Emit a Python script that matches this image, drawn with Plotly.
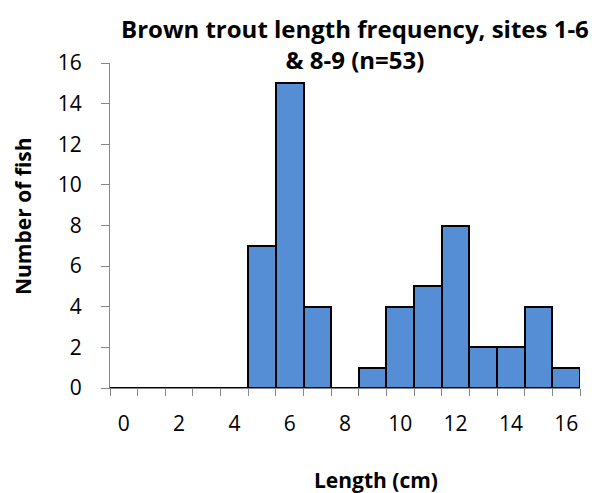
import plotly.graph_objects as go

lengths = list(range(0, 17))
counts = [0, 0, 0, 0, 0, 7, 15, 4, 0, 1, 4, 5, 8, 2, 2, 4, 1]
x_tick_vals = [0, 2, 4, 6, 8, 10, 12, 14, 16]
y_tick_vals = [0, 2, 4, 6, 8, 10, 12, 14, 16]

FONT = "Open Sans"

fig = go.Figure()
fig.add_trace(go.Bar(
    x=lengths, y=counts,
    marker=dict(color="#558ED5", line=dict(color="black", width=2)),
    width=1.0,
))

W, H = 608, 493
L, R, T, B = 110, 28, 63, 105

fig.update_layout(
    width=W, height=H,
    margin=dict(l=L, r=R, t=T, b=B, autoexpand=False),
    paper_bgcolor="white", plot_bgcolor="white",
    showlegend=False, bargap=0,
    font=dict(family=FONT, color="black", size=18),
)

fig.update_xaxes(
    range=[-0.5, 16.5],
    tickmode="array", tickvals=x_tick_vals, ticktext=[str(v) for v in x_tick_vals],
    ticks="", ticklen=0,
    minor=dict(tickmode="array", tickvals=[v - 0.5 for v in lengths] + [16.5],
               ticks="outside", ticklen=7, tickcolor="#868686", tickwidth=1),
    showline=True, linecolor="#868686", linewidth=1,
    showgrid=False, zeroline=False,
    tickfont=dict(size=21, family=FONT),
    ticklabelstandoff=17,
)
fig.update_yaxes(
    range=[0, 16],
    tickmode="array", tickvals=y_tick_vals,
    ticks="outside", ticklen=8, tickcolor="#868686", tickwidth=1,
    showline=True, linecolor="#868686", linewidth=1,
    showgrid=False, zeroline=False,
    tickfont=dict(size=21, family=FONT),
    ticklabelstandoff=15,
)

# Title
fig.add_annotation(
    text="<b>Brown trout length frequency, sites 1-6<br>& 8-9 (n=53)</b>",
    xref="paper", yref="paper",
    x=(355 - L) / (W - L - R), y=1 + (T - 44) / (H - T - B),
    xanchor="center", yanchor="middle", showarrow=False,
    font=dict(size=24, family=FONT), align="center",
)
# Axis titles
fig.add_annotation(
    text="<b>Length (cm)</b>", xref="paper", yref="paper",
    x=(376 - L) / (W - L - R), y=-(480 - (H - B)) / (H - T - B),
    xanchor="center", yanchor="middle", showarrow=False,
    font=dict(size=21, family=FONT),
)
fig.add_annotation(
    text="<b>Number of fish</b>", xref="paper", yref="paper",
    x=-(L - 23) / (W - L - R), y=1 - (216 - T) / (H - T - B),
    xanchor="center", yanchor="middle", showarrow=False, textangle=-90,
    font=dict(size=21, family=FONT),
)

fig.write_html("out.html", config={"displayModeBar": False},
               post_script="document.body.style.margin='0';")
